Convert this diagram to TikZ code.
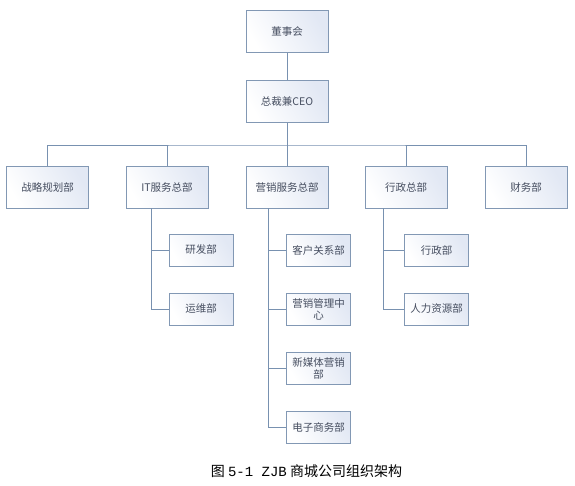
\documentclass[tikz,border=0pt]{standalone}
\usepackage{fontspec}
\newfontfamily\cjk{Noto Sans CJK SC}
\newfontfamily\mono{Liberation Mono}
\definecolor{boxline}{RGB}{130,152,180}
\definecolor{conn}{RGB}{120,145,176}
\definecolor{txt}{RGB}{70,78,96}
\definecolor{shade}{RGB}{226,232,244}
\begin{document}
\begin{tikzpicture}[x=1pt,y=-1pt,
  box/.style={draw=boxline,line width=0.8pt,left color=shade,right color=white,
    shading angle=300,font=\cjk\fontsize{10.5}{12}\selectfont,text=txt,align=center,
    inner sep=1pt},
  big/.style={box,minimum width=82pt,minimum height=42pt},
  small/.style={box,minimum width=64pt,minimum height=32pt,text width=61pt},
  conn/.style={draw=conn,line width=1pt}]
\useasboundingbox (0,0) rectangle (575,485);
\node[big] (board) at (287,31.5) {董事会};
\node[big] (ceo) at (287,101.5) {总裁兼CEO};
\node[big] (zl) at (47.5,187) {战略规划部};
\node[big] (it) at (167,187) {IT服务总部};
\node[big] (yx) at (287,187) {营销服务总部};
\node[big] (xz) at (406,187) {行政总部};
\node[big] (cw) at (526,187) {财务部};
\node[small] (yf) at (201,250) {研发部};
\node[small] (yw) at (201,309) {运维部};
\node[small] (kh) at (318.5,250) {客户关系部};
\node[small] (gl) at (318.5,309) {营销管理中\\心};
\node[small] (xm) at (318.5,368) {新媒体营销\\部};
\node[small] (ds) at (318.5,427) {电子商务部};
\node[small] (xzb) at (436.5,250) {行政部};
\node[small] (rl) at (436.5,309) {人力资源部};
\coordinate (hb) at (287,145);
\draw[conn] (board) -- (ceo);
\draw[conn] (ceo) -- (hb);
\draw[conn] (zl.north) |- (hb) -| (cw.north);
\draw[conn] (it.north) -- (it.north |- hb);
\draw[conn] (yx.north) -- (hb);
\draw[conn] (xz.north) -- (xz.north |- hb);
\coordinate (itx) at (151,208);
\coordinate (yxx) at (268,208);
\coordinate (xzx) at (383,208);
\draw[conn] (itx) |- (yw.west);
\draw[conn] (itx |- yf.west) -- (yf.west);
\draw[conn] (yxx) |- (ds.west);
\draw[conn] (yxx |- kh.west) -- (kh.west);
\draw[conn] (yxx |- gl.west) -- (gl.west);
\draw[conn] (yxx |- xm.west) -- (xm.west);
\draw[conn] (xzx) |- (rl.west);
\draw[conn] (xzx |- xzb.west) -- (xzb.west);
\node[font=\cjk\fontsize{14}{16}\selectfont,text=black] (cap) at (306.5,471) {图 {\mono 5-1 ZJB} 商城公司组织架构};
\end{tikzpicture}
\end{document}
